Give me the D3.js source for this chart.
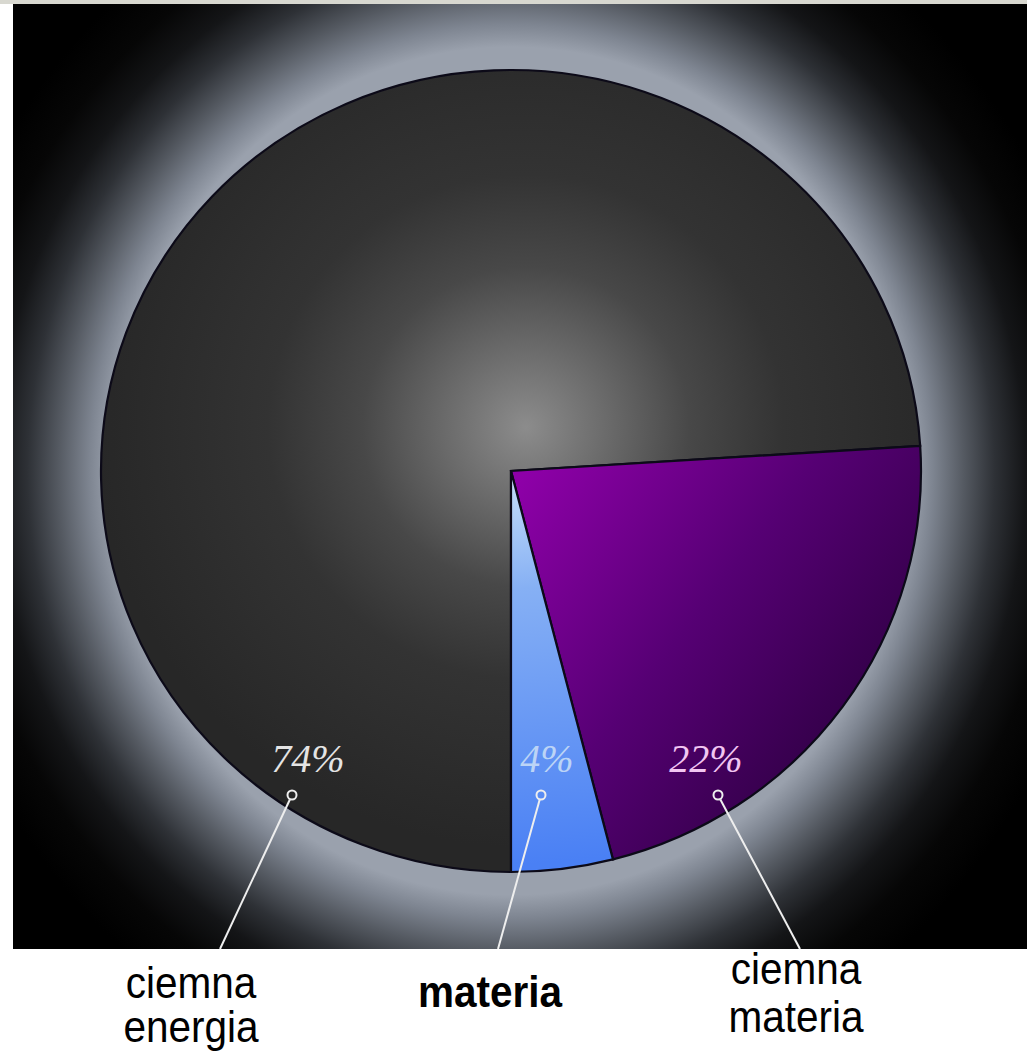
<!DOCTYPE html>
<html>
<head>
<meta charset="utf-8">
<script src="https://cdn.jsdelivr.net/npm/d3@7"></script>
<style>
html,body{margin:0;padding:0;background:#fff;}
svg{display:block;}
</style>
</head>
<body>
<script>
// ---- data ----
const categories = ["ciemna energia", "ciemna materia", "materia"];
const values = [74, 22, 4];
const pctLabels = ["74%", "22%", "4%"];
const nameLines = [["ciemna", "energia"], ["ciemna", "materia"], ["materia"]];
const boldName = [false, false, true];

// ---- layout ----
const W = 1027, H = 1053;
const cx = 511, cy = 471, rx = 410, ry = 401;

const svg = d3.select("body").append("svg").attr("width", W).attr("height", H);
const defs = svg.append("defs");

// background glow
const glow = defs.append("radialGradient").attr("id", "glow")
  .attr("gradientUnits", "userSpaceOnUse").attr("cx", cx).attr("cy", cy).attr("r", 620)
  .attr("gradientTransform", `translate(${cx},${cy}) scale(1,1.06) translate(${-cx},${-cy})`);
[[0, "#9aa1ad"], [0.645, "#9aa1ad"], [0.68, "#7e8591"], [0.73, "#555a62"], [0.78, "#2e3136"],
 [0.83, "#141517"], [0.89, "#060606"], [0.96, "#000"], [1, "#000"]]
  .forEach(([o, c]) => glow.append("stop").attr("offset", o).attr("stop-color", c));

// slice gradients (local coords, pie apex at 0,0)
const gGray = defs.append("radialGradient").attr("id", "gGray")
  .attr("gradientUnits", "userSpaceOnUse").attr("cx", 15).attr("cy", -45).attr("r", 430);
[[0, "#8c8c8c"], [0.18, "#6c6c6c"], [0.38, "#484848"], [0.6, "#333333"], [1, "#272727"]]
  .forEach(([o, c]) => gGray.append("stop").attr("offset", o).attr("stop-color", c));

const gPurple = defs.append("linearGradient").attr("id", "gPurple")
  .attr("gradientUnits", "userSpaceOnUse").attr("x1", 0).attr("y1", 20).attr("x2", 400).attr("y2", 320);
[[0, "#8e00a8"], [0.45, "#560074"], [1, "#240036"]]
  .forEach(([o, c]) => gPurple.append("stop").attr("offset", o).attr("stop-color", c));

const gBlue = defs.append("linearGradient").attr("id", "gBlue")
  .attr("gradientUnits", "userSpaceOnUse").attr("x1", 0).attr("y1", 0).attr("x2", 40).attr("y2", 400);
[[0, "#c8e0fa"], [0.3, "#86b0f4"], [1, "#4a80f4"]]
  .forEach(([o, c]) => gBlue.append("stop").attr("offset", o).attr("stop-color", c));

const fills = ["url(#gGray)", "url(#gPurple)", "url(#gBlue)"];

// top strip and dark panel
svg.append("rect").attr("x", 0).attr("y", 0).attr("width", W).attr("height", 4).attr("fill", "#d8d8d0");
svg.append("rect").attr("x", 13).attr("y", 4).attr("width", W - 13).attr("height", 945).attr("fill", "url(#glow)");

// pie
const pie = d3.pie().sort(null).value(d => d).startAngle(Math.PI).endAngle(3 * Math.PI);
const arcs = pie(values);
const arc = d3.arc().innerRadius(0).outerRadius(rx);

const g = svg.append("g").attr("transform", `translate(${cx},${cy}) scale(1,${ry / rx})`);
g.selectAll("path.slice").data(arcs).join("path")
  .attr("class", "slice")
  .attr("d", arc)
  .attr("fill", (d, i) => fills[i])
  .attr("stroke", "#0c0a18")
  .attr("stroke-width", 2.2)
  .attr("stroke-linejoin", "miter")
  .attr("vector-effect", "non-scaling-stroke");

// percentage labels, rings and leaders (layout positions)
const pctX = [308, 706, 547];
const pctY = 772;
const pctColor = ["#e4e4e4", "#f2c6f2", "#bcd4f6"];
const ringPos = [[292, 795], [718, 795], [541, 795]];
const leaderEnd = [[220, 949], [800, 949], [498, 949]];
const nameX = [191, 796, 490];
const nameY = [[998, 1042], [984, 1032], [1007]];

svg.selectAll("text.pct").data(pctLabels).join("text")
  .attr("class", "pct")
  .attr("x", (d, i) => pctX[i]).attr("y", pctY)
  .attr("text-anchor", "middle")
  .attr("font-family", "'Liberation Serif', 'DejaVu Serif', serif")
  .attr("font-style", "italic")
  .attr("font-size", 40)
  .attr("fill", (d, i) => pctColor[i])
  .text(d => d);

values.forEach((v, i) => {
  const [x0, y0] = ringPos[i];
  const [x1, y1] = leaderEnd[i];
  const dx = x1 - x0, dy = y1 - y0, L = Math.hypot(dx, dy);
  svg.append("line")
    .attr("x1", x0 + dx / L * 5).attr("y1", y0 + dy / L * 5)
    .attr("x2", x1).attr("y2", y1)
    .attr("stroke", "#eeeeee").attr("stroke-width", 2);
  svg.append("circle").attr("cx", x0).attr("cy", y0).attr("r", 4.5)
    .attr("fill", "none").attr("stroke", "#eeeeee").attr("stroke-width", 2);
});

// category names (slightly condensed, as in the reference)
nameLines.forEach((lines, i) => {
  lines.forEach((ln, j) => {
    svg.append("text")
      .attr("transform", `translate(${nameX[i]},${nameY[i][j]}) scale(0.9,1)`)
      .attr("text-anchor", "middle")
      .attr("font-family", "'Liberation Sans', Arial, sans-serif")
      .attr("font-size", 45)
      .attr("font-weight", boldName[i] ? "bold" : "normal")
      .attr("fill", "#000")
      .text(ln);
  });
});
</script>
</body>
</html>
